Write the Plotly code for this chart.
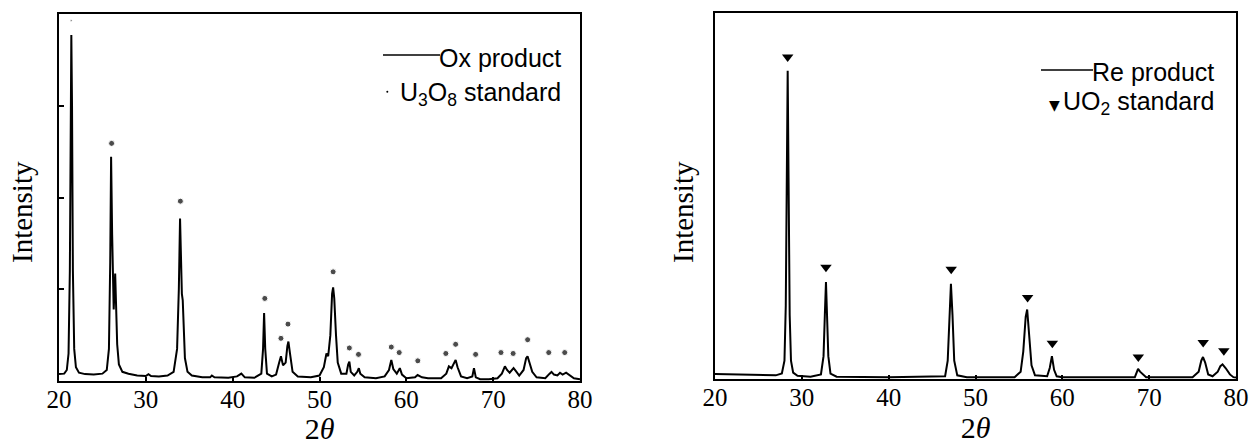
import plotly.graph_objects as go

# ---------------- data: left panel (oxidation product, U3O8 reference) ----------------
ox_two_theta = [20.0, 20.6, 20.9, 21.1, 21.25, 21.35, 21.42, 21.5, 21.6, 21.75, 21.95, 22.3, 23.0, 24.0,
                25.0, 25.5, 25.75, 25.9, 26.0, 26.12, 26.22, 26.3, 26.4, 26.47, 26.55, 26.7, 26.9, 27.3,
                28.0, 29.0, 30.0, 30.3, 30.6, 31.5, 32.5, 33.2, 33.6, 33.8, 33.94, 34.05, 34.15, 34.25,
                34.35, 34.5, 34.8, 35.3, 36.5, 37.4, 37.6, 37.9, 39.5, 40.5, 41.0, 41.4, 42.5, 43.3, 43.5,
                43.62, 43.75, 43.95, 44.5, 45.0, 45.35, 45.56, 45.8, 46.1, 46.3, 46.42, 46.6, 46.9, 47.5,
                49.0, 50.0, 50.5, 50.8, 51.0, 51.25, 51.45, 51.57, 51.7, 51.9, 52.1, 52.5, 53.1, 53.3,
                53.44, 53.6, 54.0, 54.35, 54.53, 54.7, 55.2, 56.5, 57.5, 58.0, 58.27, 58.5, 58.9, 59.25,
                59.5, 60.0, 61.0, 61.3, 61.8, 62.5, 64.0, 64.6, 64.9, 65.2, 65.5, 65.68, 65.9, 66.3, 67.0,
                67.6, 67.79, 68.0, 68.5, 69.5, 70.5, 71.0, 71.35, 71.6, 71.9, 72.35, 72.6, 73.0, 73.5,
                73.8, 73.96, 74.2, 74.5, 75.0, 76.0, 76.5, 76.72, 77.0, 77.4, 77.7, 78.0, 78.4, 78.8,
                79.3, 80.0]
ox_intensity = [0.075, 0.08, 0.12, 0.3, 1.2, 3.0, 3.77, 3.0, 1.2, 0.35, 0.15, 0.09, 0.075, 0.07,
                0.08, 0.12, 0.35, 1.3, 2.445, 1.6, 0.9, 0.78, 1.0, 1.17, 0.9, 0.4, 0.18, 0.1,
                0.08, 0.06, 0.055, 0.075, 0.055, 0.05, 0.06, 0.1, 0.35, 1.0, 1.77, 1.3, 0.95, 0.88,
                0.6, 0.25, 0.1, 0.06, 0.04, 0.04, 0.06, 0.04, 0.035, 0.05, 0.08, 0.04, 0.035, 0.08, 0.35,
                0.74, 0.35, 0.08, 0.05, 0.07, 0.2, 0.27, 0.17, 0.2, 0.38, 0.43, 0.3, 0.1, 0.05,
                0.04, 0.06, 0.15, 0.30, 0.27, 0.5, 0.95, 1.02, 0.9, 0.5, 0.2, 0.08, 0.08, 0.18,
                0.21, 0.1, 0.06, 0.1, 0.14, 0.08, 0.04, 0.03, 0.05, 0.12, 0.23, 0.13, 0.08, 0.14,
                0.07, 0.03, 0.04, 0.065, 0.04, 0.03, 0.03, 0.08, 0.16, 0.14, 0.2, 0.23, 0.15, 0.05, 0.03,
                0.05, 0.14, 0.04, 0.02, 0.02, 0.03, 0.08, 0.16, 0.12, 0.09, 0.14, 0.11, 0.06, 0.12,
                0.25, 0.27, 0.2, 0.1, 0.04, 0.03, 0.08, 0.10, 0.07, 0.06, 0.09, 0.07, 0.09, 0.06,
                0.03, 0.02]

u3o8_two_theta = [21.4, 26.06, 33.98, 43.7, 45.56, 46.37, 51.57, 53.44, 54.49, 58.27, 59.18, 61.32,
                  64.55, 65.68, 67.98, 70.9, 72.3, 73.97, 76.4, 78.24]
u3o8_marker_y = [3.93, 2.59, 1.96, 0.90, 0.465, 0.62, 1.19, 0.36, 0.29, 0.37, 0.31, 0.22,
                 0.30, 0.40, 0.29, 0.31, 0.30, 0.45, 0.31, 0.31]

# ---------------- data: right panel (reduction product, UO2 reference) ----------------
re_two_theta = [20.0, 22.0, 25.0, 27.0, 27.7, 28.0, 28.15, 28.27, 28.37, 28.47, 28.6, 28.75, 29.0, 29.5,
                31.0, 32.2, 32.5, 32.65, 32.78, 32.9, 33.05, 33.3, 34.0, 40.0, 46.5, 46.8, 46.98, 47.17,
                47.35, 47.55, 47.9, 49.0, 54.5, 55.2, 55.5, 55.78, 55.95, 56.15, 56.45, 56.85, 58.25,
                58.55, 58.8, 59.05, 59.35, 60.0, 68.35, 68.6, 68.72, 68.95, 69.25, 69.65, 75.0, 75.7,
                76.0, 76.2, 76.45, 76.8, 77.3, 77.9, 78.2, 78.45, 78.8, 79.3, 79.7, 80.0]
re_intensity = [0.055, 0.05, 0.045, 0.04, 0.06, 0.2, 0.8, 2.2, 3.37, 2.2, 0.7, 0.2, 0.07, 0.035,
                0.025, 0.05, 0.25, 0.7, 1.06, 0.7, 0.25, 0.06, 0.025, 0.02, 0.03, 0.2, 0.7, 1.04,
                0.7, 0.2, 0.04, 0.02, 0.02, 0.08, 0.3, 0.68, 0.76, 0.55, 0.15, 0.04, 0.03,
                0.12, 0.25, 0.1, 0.03, 0.02, 0.02, 0.08, 0.11, 0.08, 0.05, 0.02, 0.02, 0.08,
                0.2, 0.24, 0.18, 0.05, 0.03, 0.08, 0.14, 0.16, 0.12, 0.05, 0.02, 0.015]

uo2_two_theta = [28.37, 32.78, 47.2, 56.0, 58.85, 68.75, 76.22, 78.6]
uo2_marker_y = [3.52, 1.22, 1.20, 0.89, 0.39, 0.24, 0.40, 0.31]

x_tick_values = [20, 30, 40, 50, 60, 70, 80]
x_tick_labels = ["20", "30", "40", "50", "60", "70", "80"]
y_tick_values_left = [1, 2, 3]

# ---------------- figure ----------------
W, H = 1249, 445
SERIF = "Liberation Serif, Times New Roman, serif"
SANS = "Liberation Sans, Arial, sans-serif"

fig = go.Figure()
fig.add_trace(go.Scatter(x=ox_two_theta, y=ox_intensity, mode="lines",
                         line=dict(color="black", width=2), xaxis="x", yaxis="y",
                         name="Ox product", showlegend=False))
fig.add_trace(go.Scatter(x=u3o8_two_theta, y=u3o8_marker_y, mode="markers",
                         marker=dict(color="black", size=[2] + [6] * (len(u3o8_two_theta) - 1)),
                         xaxis="x", yaxis="y", name="U3O8 standard", showlegend=False))
fig.add_trace(go.Scatter(x=re_two_theta, y=re_intensity, mode="lines",
                         line=dict(color="black", width=2), xaxis="x2", yaxis="y2",
                         name="Re product", showlegend=False))
fig.add_trace(go.Scatter(x=uo2_two_theta, y=uo2_marker_y, mode="markers",
                         marker=dict(color="black", size=10, symbol="triangle-down"),
                         xaxis="x2", yaxis="y2", name="UO2 standard", showlegend=False))


def px_x(p):
    return p / W


def px_y(p):
    return 1 - p / H


common_x = dict(range=[20, 80], tickvals=x_tick_values, ticktext=x_tick_labels,
                ticks="inside", ticklen=4, tickwidth=1.5, tickcolor="black",
                showline=True, linecolor="black", linewidth=2, mirror=True,
                showgrid=False, zeroline=False, automargin=False, ticklabelstandoff=-5,
                tickfont=dict(family=SERIF, size=25, color="black"),
                title=dict(text="2<i>θ</i>", font=dict(family=SERIF, size=30, color="black"), standoff=7))
common_y = dict(range=[0, 4], showline=True, linecolor="black", linewidth=2, mirror=True,
                showgrid=False, zeroline=False, showticklabels=False, automargin=False)

fig.update_layout(
    template="none",
    width=W, height=H, autosize=False,
    margin=dict(l=0, r=0, t=0, b=0, pad=0),
    paper_bgcolor="white", plot_bgcolor="white",
    showlegend=False,
    xaxis=dict(domain=[px_x(59), px_x(580)], anchor="y", **common_x),
    yaxis=dict(domain=[px_y(381), px_y(14)], anchor="x", ticks="inside", ticklen=5, tickwidth=2,
               tickcolor="black", tickvals=y_tick_values_left, **common_y),
    xaxis2=dict(domain=[px_x(715), px_x(1236)], anchor="y2", **common_x),
    yaxis2=dict(domain=[px_y(379), px_y(13)], anchor="x2", ticks="", **common_y),
)

# y-axis titles ("Intensity"), placed as rotated texts beside each panel
for xc in (22, 683):
    fig.add_annotation(x=px_x(xc), y=px_y(212), xref="paper", yref="paper", text="Intensity",
                       textangle=-90, showarrow=False, xanchor="center", yanchor="middle",
                       font=dict(family=SERIF, size=29, color="black"))

# ---------------- legends (drawn in figure coordinates) ----------------
legend_font = dict(family=SANS, size=25, color="black")
legend_rows = [
    # (text, right edge px, centre y px)
    ("Ox product", 563, 58),
    ("U<sub>3</sub>O<sub>8</sub> standard", 563, 94),
    ("Re product", 1216, 72),
    ("UO<sub>2</sub> standard", 1216, 103),
]
for text, xr, yc in legend_rows:
    fig.add_annotation(x=px_x(xr), y=px_y(yc), xref="paper", yref="paper", text=text,
                       showarrow=False, xanchor="right", yanchor="middle", font=legend_font)

fig.add_shape(type="line", xref="paper", yref="paper", x0=px_x(383), x1=px_x(440),
              y0=px_y(55), y1=px_y(55), line=dict(color="black", width=1.5))
fig.add_shape(type="line", xref="paper", yref="paper", x0=px_x(1041), x1=px_x(1093),
              y0=px_y(70), y1=px_y(70), line=dict(color="black", width=1.5))
fig.add_shape(type="circle", xref="paper", yref="paper", x0=px_x(386.3), x1=px_x(388.3),
              y0=px_y(92.7), y1=px_y(90.7), fillcolor="black", line=dict(width=0))
fig.add_annotation(x=px_x(1054), y=px_y(105), xref="paper", yref="paper", text="▼",
                   showarrow=False, xanchor="center", yanchor="middle",
                   font=dict(family="DejaVu Sans", size=14, color="black"))

fig.write_html("out.html", config={"displayModeBar": False},
               post_script="document.body.style.margin='0';document.body.style.padding='0';"
                           "document.body.style.overflow='hidden';")
